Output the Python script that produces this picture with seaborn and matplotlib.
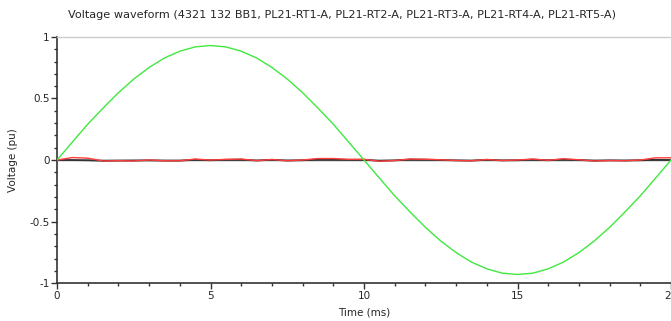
import numpy as np
import pandas as pd
import seaborn as sns
import matplotlib.pyplot as plt
from matplotlib.ticker import MultipleLocator, FuncFormatter

# tiempo en ms, paso de 0.5 ms
tiempo = [0.0, 0.5, 1.0, 1.5, 2.0, 2.5, 3.0, 3.5, 4.0, 4.5, 5.0,
          5.5, 6.0, 6.5, 7.0, 7.5, 8.0, 8.5, 9.0, 9.5, 10.0,
          10.5, 11.0, 11.5, 12.0, 12.5, 13.0, 13.5, 14.0, 14.5, 15.0,
          15.5, 16.0, 16.5, 17.0, 17.5, 18.0, 18.5, 19.0, 19.5, 20.0]

# barra 4321 132 BB1 (verde)
v_bb1 = [0.0, 0.146, 0.291, 0.422, 0.547, 0.658, 0.752, 0.829, 0.884, 0.919, 0.93,
         0.919, 0.884, 0.829, 0.752, 0.658, 0.547, 0.422, 0.291, 0.146, 0.0,
         -0.146, -0.291, -0.422, -0.547, -0.658, -0.752, -0.829, -0.884, -0.919, -0.93,
         -0.919, -0.884, -0.829, -0.752, -0.658, -0.547, -0.422, -0.291, -0.146, 0.0]

# PL21-RT1-A (rojo)
v_rt1 = [0.0, 0.02, 0.015, -0.008, -0.005, -0.008, 0.0, -0.006, -0.006, 0.008, 0.0,
         0.005, 0.008, -0.005, 0.004, -0.006, 0.0, 0.012, 0.012, 0.005, 0.006,
         -0.01, -0.004, 0.008, 0.006, 0.002, -0.004, -0.006, 0.004, -0.004, 0.0,
         0.008, -0.002, 0.01, 0.002, -0.008, -0.004, -0.006, 0.0, 0.018, 0.018]

# PL21-RT2-A ... RT5-A (casi cero, se ven en negro)
v_rt2 = [0.0, 0.0, -0.002, -0.006, -0.005, -0.004, -0.003, -0.005, -0.005, 0.002, -0.002,
         0.002, 0.003, -0.004, 0.002, -0.004, -0.002, 0.004, 0.004, 0.002, 0.002,
         -0.006, -0.003, 0.004, 0.003, 0.0, -0.003, -0.005, 0.002, -0.003, -0.002,
         0.003, -0.002, 0.004, 0.0, -0.005, -0.003, -0.004, -0.002, 0.002, 0.0]

df = pd.DataFrame({"t": tiempo, "bb1": v_bb1, "rt1": v_rt1, "rt2": v_rt2})

sns.set_style("white")
plt.rcParams["font.family"] = ["DejaVu Sans"]
plt.rcParams["axes.unicode_minus"] = False

fig = plt.figure(figsize=(6.71, 3.21), dpi=100)
ax = fig.add_axes([0.085, 0.118, 0.915, 0.767])

ax.axhline(0, color="#555555", lw=1.0, zorder=1)
sns.lineplot(data=df, x="t", y="rt2", ax=ax, color="#333333", lw=1.3, zorder=2)
sns.lineplot(data=df, x="t", y="rt1", ax=ax, color="#ff3b3b", lw=1.0, zorder=3)
sns.lineplot(data=df, x="t", y="bb1", ax=ax, color="#40e840", lw=1.0, zorder=4)

ax.set_xlim(0, 20)
ax.set_ylim(-1, 1)
ax.xaxis.set_major_locator(MultipleLocator(5))
ax.xaxis.set_minor_locator(MultipleLocator(1))
ax.yaxis.set_major_locator(MultipleLocator(0.5))
ax.yaxis.set_minor_locator(MultipleLocator(0.1))
ax.yaxis.set_major_formatter(FuncFormatter(lambda v, p: f"{v:g}"))
ax.tick_params(axis="both", which="major", direction="out", length=4, width=1,
               color="#333333", labelsize=7.5, pad=1.5, bottom=True, left=True)
ax.tick_params(axis="both", which="minor", direction="out", length=2.5, width=1,
               color="#333333", bottom=True, left=True)

for lado in ["left", "bottom"]:
    ax.spines[lado].set_color("#333333")
    ax.spines[lado].set_linewidth(1.2)
ax.spines["top"].set_color("#cccccc")
ax.spines["top"].set_linewidth(1.0)
ax.spines["right"].set_visible(False)

ax.set_xlabel("Time (ms)", fontsize=7.5, labelpad=5)
ax.set_ylabel("Voltage (pu)", fontsize=7.5, labelpad=8)

fig.suptitle("Voltage waveform (4321 132 BB1, PL21-RT1-A, PL21-RT2-A, PL21-RT3-A, PL21-RT4-A, PL21-RT5-A)",
             x=0.51, y=0.97, fontsize=8.1)

fig.savefig("out.png", dpi=100)
